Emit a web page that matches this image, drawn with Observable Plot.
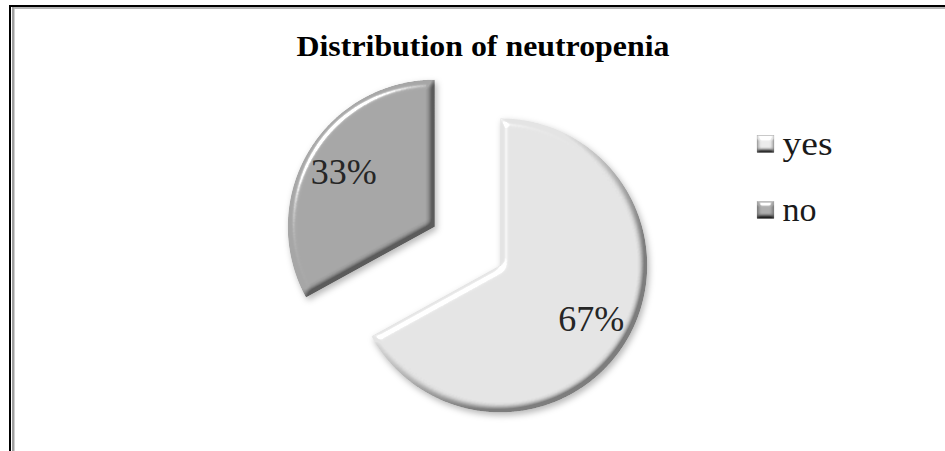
<!DOCTYPE html>
<html><head><meta charset="utf-8">
<script src="https://cdn.jsdelivr.net/npm/d3@7"></script>
<script src="https://cdn.jsdelivr.net/npm/@observablehq/plot@0.6"></script>
<style>
html,body{margin:0;padding:0;background:#fff;}
#wrap{position:relative;width:945px;height:451px;overflow:hidden;background:#fff;}
.b{position:absolute;}
#chart{position:absolute;left:0;top:0;}
</style></head><body>
<div id="wrap">
  <div class="b" style="left:9px;top:5px;width:936px;height:2px;background:#000"></div>
  <div class="b" style="left:9px;top:5px;width:2px;height:446px;background:#000"></div>
  <div class="b" style="left:12px;top:7px;width:933px;height:2px;background:#b4b4b4"></div>
  <div class="b" style="left:12px;top:7px;width:2px;height:444px;background:#a0a0a0"></div>
  <div class="b" style="left:14px;top:9px;width:1px;height:442px;background:#d0d0d0"></div>
  <div id="chart"></div>
</div>
<script>
// ---- data ----
const categories = ["yes", "no"];
const values = [67, 33];
const valueLabels = ["67%", "33%"];
const title = "Distribution of neutropenia";

// ---- layout & style ----
const W = 945, H = 451;
const pieCenter = [467, 245.5], radius = 147, explode = 38, labelK = 0.72;
const sliceColors = ["#e4e4e4", "#a6a6a6"];
const titlePos = [482.5, 46], titleWidth = 373;
const legendX = 765.5, legendY0 = 144, legendStep = 66, legendTextDx = 16.5, swatch = 17;
const legendWidths = {yes: 50, no: 34};

const arcs = d3.pie().sort(null).value(d => d)(values);
const slices = arcs.map((a, i) => {
  const mid = (a.startAngle + a.endAngle) / 2;
  const cx = pieCenter[0] + explode * Math.sin(mid);
  const cy = pieCenter[1] - explode * Math.cos(mid);
  return {cat: categories[i], label: valueLabels[i], a0: a.startAngle, a1: a.endAngle, mid, cx, cy,
          lx: cx + labelK * radius * Math.sin(mid), ly: cy - labelK * radius * Math.cos(mid)};
});
const outline = slices.flatMap(s => {
  const n = Math.ceil((s.a1 - s.a0) / (Math.PI / 360));
  const pts = [{cat: s.cat, x: s.cx, y: s.cy}];
  for (let k = 0; k <= n; k++) {
    const t = s.a0 + (s.a1 - s.a0) * k / n;
    pts.push({cat: s.cat, x: s.cx + radius * Math.sin(t), y: s.cy - radius * Math.cos(t)});
  }
  return pts;
});
const legend = categories.map((c, i) => ({cat: c, x: legendX, y: legendY0 + i * legendStep}));

const serif = "'Liberation Serif','Times New Roman',serif";
const svg = Plot.plot({
  width: W, height: H, margin: 0,
  x: {type: "linear", domain: [0, W], range: [0, W], axis: null},
  y: {type: "linear", domain: [0, H], range: [0, H], axis: null},
  color: {type: "ordinal", domain: categories, range: sliceColors},
  style: {background: "transparent", overflow: "visible"},
  marks: [
    Plot.line(outline, {x: "x", y: "y", z: "cat", fill: "cat", stroke: "none", curve: "linear-closed"}),
    Plot.text(slices, {x: "lx", y: "ly", text: "label", fontSize: 36, fontFamily: serif, fill: "#262626"}),
    Plot.text([title], {x: () => titlePos[0], y: () => titlePos[1], text: d => d, fontSize: 29,
      fontWeight: "bold", fontFamily: serif, fill: "#000"}),
    Plot.rect(legend, {x1: d => d.x - swatch / 2, x2: d => d.x + swatch / 2,
      y1: d => d.y - swatch / 2, y2: d => d.y + swatch / 2, fill: "cat"}),
    Plot.text(legend, {x: d => d.x + legendTextDx, y: "y", text: "cat", textAnchor: "start",
      fontSize: 34, fontFamily: serif, fill: "#1a1a1a"})
  ]
});

const s = d3.select(svg);
s.insert("defs", ":first-child").html(`
<filter id="bevel" x="-20%" y="-20%" width="140%" height="140%" color-interpolation-filters="sRGB">
  <feGaussianBlur in="SourceAlpha" stdDeviation="3.5" result="blur"/>
  <feDiffuseLighting in="blur" surfaceScale="6" diffuseConstant="1.74" lighting-color="#fff" result="diff">
    <feDistantLight azimuth="225" elevation="35"/>
  </feDiffuseLighting>
  <feComposite in="SourceGraphic" in2="diff" operator="arithmetic" k1="0.45" k2="0.55" k3="0" k4="0" result="lit"/>
  <feSpecularLighting in="blur" surfaceScale="6" specularConstant="0.9" specularExponent="45" lighting-color="#fff" result="spec">
    <feDistantLight azimuth="225" elevation="35"/>
  </feSpecularLighting>
  <feComposite in="spec" in2="SourceAlpha" operator="in" result="specIn"/>
  <feComposite in="lit" in2="specIn" operator="arithmetic" k1="0" k2="1" k3="1" k4="0" result="bev"/>
  <feComposite in="bev" in2="SourceAlpha" operator="in" result="shape"/>
  <feGaussianBlur in="SourceAlpha" stdDeviation="3" result="sb"/>
  <feOffset in="sb" dx="2" dy="3" result="so"/>
  <feFlood flood-color="#000" flood-opacity="0.28"/>
  <feComposite in2="so" operator="in" result="shadow"/>
  <feMerge><feMergeNode in="shadow"/><feMergeNode in="shape"/></feMerge>
</filter>
<filter id="bevelSmall" x="-30%" y="-30%" width="160%" height="160%" color-interpolation-filters="sRGB">
  <feGaussianBlur in="SourceAlpha" stdDeviation="2" result="blur"/>
  <feDiffuseLighting in="blur" surfaceScale="3" diffuseConstant="1.6" lighting-color="#fff" result="diff">
    <feDistantLight azimuth="270" elevation="40"/>
  </feDiffuseLighting>
  <feComposite in="SourceGraphic" in2="diff" operator="arithmetic" k1="0.8" k2="0.2" k3="0" k4="0" result="lit"/>
  <feSpecularLighting in="blur" surfaceScale="3" specularConstant="0.6" specularExponent="30" lighting-color="#fff" result="spec">
    <feDistantLight azimuth="270" elevation="40"/>
  </feSpecularLighting>
  <feComposite in="spec" in2="SourceAlpha" operator="in" result="specIn"/>
  <feComposite in="lit" in2="specIn" operator="arithmetic" k1="0" k2="1" k3="1" k4="0" result="bev"/>
  <feComposite in="bev" in2="SourceAlpha" operator="in"/>
</filter>`);
s.select('g[aria-label="line"]').attr("filter", "url(#bevel)");
s.select('g[aria-label="rect"]').attr("filter", "url(#bevelSmall)").attr("stroke", "#9a9a9a").attr("stroke-width", 0.6);
s.selectAll("text").each(function() {
  const t = this.textContent;
  if (t === title) d3.select(this).attr("textLength", titleWidth).attr("lengthAdjust", "spacingAndGlyphs");
  if (legendWidths[t]) d3.select(this).attr("textLength", legendWidths[t]).attr("lengthAdjust", "spacingAndGlyphs");
});
document.getElementById("chart").append(svg);
</script>
</body></html>
